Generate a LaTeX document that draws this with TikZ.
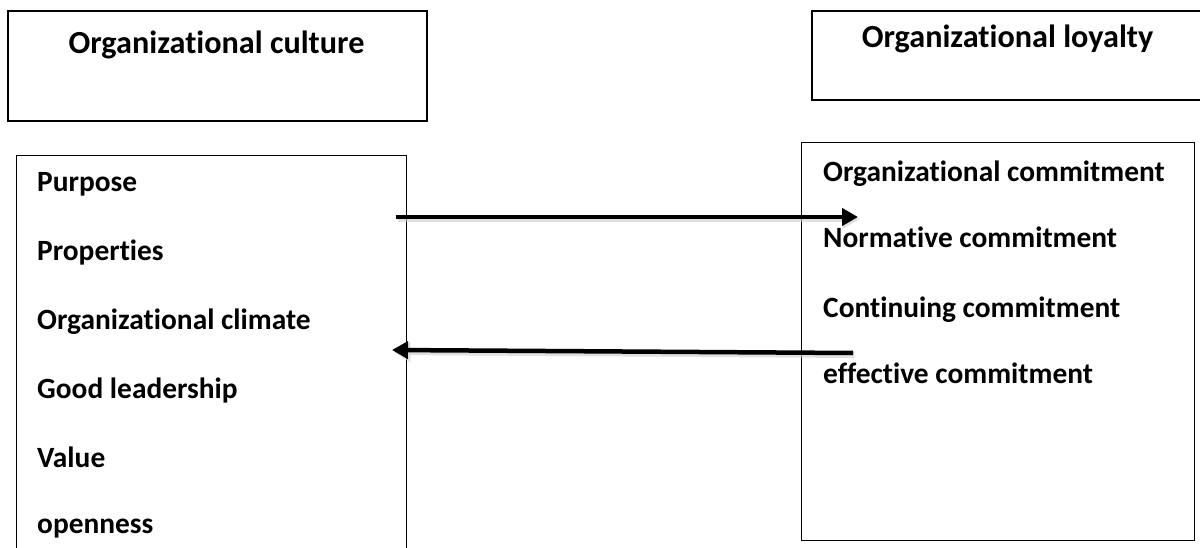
\documentclass[tikz,border=0pt]{standalone}
\usepackage{fontspec}
\setmainfont{Carlito}[Ligatures=NoCommon]
\usetikzlibrary{arrows.meta}
\begin{document}
\begin{tikzpicture}[x=1pt,y=1pt,
  hdrbox/.style={draw=black, line width=1.6pt, inner sep=0pt, anchor=north west},
  listbox/.style={draw=black, line width=1pt, inner sep=0pt, anchor=north west},
  lbl/.style={anchor=base west, inner sep=0pt, font=\fontsize{29.4}{35}\selectfont\bfseries},
  hdr/.style={anchor=base, inner sep=0pt, font=\fontsize{32.2}{38}\selectfont\bfseries},
  link/.style={line width=4.5pt, -{Triangle[length=16pt,width=17pt]}},
  linkshadow/.style={line width=6pt, draw=black!20, opacity=0.6, -{Triangle[length=17pt,width=19pt]}}
]
\clip (0,0) rectangle (1200,-548);
\fill[white] (0,0) rectangle (1200,-548);

% boxes
\node[hdrbox, minimum width=419pt, minimum height=110pt] (cbox) at (7,-10) {};
\node[hdrbox, minimum width=410pt, minimum height=89pt] (lbox) at (811,-10) {};
\node[listbox, minimum width=390pt, minimum height=420pt] (clist) at (16,-155) {};
\node[listbox, minimum width=393pt, minimum height=398pt] (llist) at (801,-142) {};

% headers
\node[hdr] (ctitle) at (216.5,-54) {Organizational culture};
\node[hdr] (ltitle) at (1007.5,-48) {Organizational loyalty};

% left list
\node[lbl] (c1) at (37,-192) {Purpose};
\node[lbl] (c2) at (37,-261) {Properties};
\node[lbl] (c3) at (37,-330) {Organizational climate};
\node[lbl] (c4) at (37,-398) {Good leadership};
\node[lbl] (c5) at (37,-467) {Value};
\node[lbl] (c6) at (37,-533) {openness};

% right list
\node[lbl] (l1) at (823,-182) {Organizational commitment};
\node[lbl] (l2) at (823,-248) {Normative commitment};
\node[lbl] (l3) at (823,-317) {Continuing commitment};
\node[lbl] (l4) at (823,-383) {effective commitment};

% arrow end points
\coordinate (a1s) at (396,-217);
\coordinate (a1e) at (858,-217);
\coordinate (a2s) at (853,-353);
\coordinate (a2e) at (392,-350);
\coordinate (a1ss) at (397.5,-219);
\coordinate (a1es) at (859.5,-219);
\coordinate (a2ss) at (854.5,-355);
\coordinate (a2es) at (393.5,-352);

\draw[linkshadow] (a1ss) -- (a1es);
\draw[linkshadow] (a2ss) -- (a2es);
\draw[link] (a1s) -- (a1e);
\draw[link] (a2s) -- (a2e);
\end{tikzpicture}
\end{document}
